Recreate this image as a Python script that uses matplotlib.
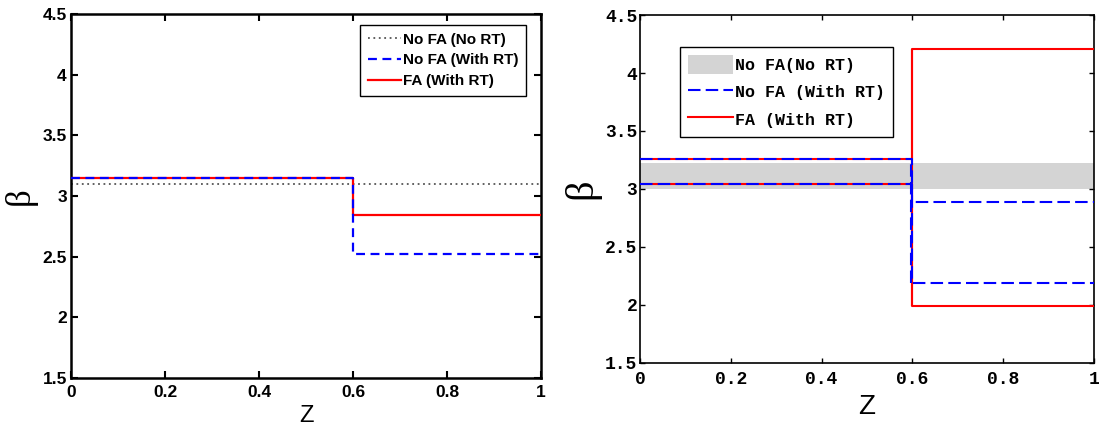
import numpy as np
import matplotlib
matplotlib.use("Agg")
import matplotlib.pyplot as plt
from matplotlib.patches import Patch
from matplotlib.lines import Line2D

# === 1. Data: beta per z segment (jump at z = 0.6) ===
z_edges = [0.0, 0.6, 1.0]

# left: point values
left_no_fa_no_rt = [3.10, 3.10]
left_no_fa_rt = [3.15, 2.52]
left_fa_rt = [3.15, 2.84]

# right: lower / upper bounds
right_no_rt_band = [3.00, 3.22]
right_no_fa_rt_lo = [3.04, 2.19]
right_no_fa_rt_hi = [3.26, 2.89]
right_fa_rt_lo = [3.04, 1.99]
right_fa_rt_hi = [3.26, 4.21]

labels_left = ["No FA (No RT)", "No FA (With RT)", "FA (With RT)"]
labels_right = ["No FA(No RT)", "No FA (With RT)", "FA (With RT)"]

xticks = [0, 0.2, 0.4, 0.6, 0.8, 1.0]
yticks = [1.5, 2, 2.5, 3, 3.5, 4, 4.5]


def steps(vals):
    return np.append(vals, vals[-1])


def tick_fmt(v):
    return f"{v:g}"


fig = plt.figure(figsize=(10.99, 4.25), dpi=100)

# === 2. Left panel ===
ax1 = fig.add_axes([0.0646, 0.1106, 0.4277, 0.8565])
sans = "Liberation Sans"

ax1.step(z_edges, steps(left_no_fa_no_rt), where="post", color="#555555",
         linestyle=(0, (1, 2)), linewidth=1.3, label=labels_left[0], zorder=2)
ax1.step(z_edges, steps(left_fa_rt), where="post", color="#ff0000",
         linewidth=1.6, label=labels_left[2], zorder=3)
ax1.step(z_edges, steps(left_no_fa_rt), where="post", color="#0000ff",
         linestyle=(0, (4, 2.5)), linewidth=1.6, label=labels_left[1], zorder=4)

ax1.set_xlim(0, 1)
ax1.set_ylim(1.5, 4.5)
ax1.set_xticks(xticks)
ax1.set_yticks(yticks)
ax1.set_xticklabels([tick_fmt(v) for v in xticks], fontfamily=sans, fontweight="bold", fontsize=12.5)
ax1.set_yticklabels([tick_fmt(v) for v in yticks], fontfamily=sans, fontweight="bold", fontsize=12.5)
ax1.tick_params(direction="in", length=5, width=1.5, top=True, right=True, pad=3)
ax1.tick_params(axis="x", pad=5)
for sp in ax1.spines.values():
    sp.set_linewidth(1.8)
ax1.set_xlabel("Z", fontfamily=sans, fontsize=17)
ax1.xaxis.set_label_coords(0.5, -0.073)
ax1.set_ylabel("β", fontfamily="Liberation Serif", fontsize=25, labelpad=4)

h1 = [ax1.lines[0], ax1.lines[2], ax1.lines[1]]
leg1 = ax1.legend(h1, labels_left, loc="upper right", bbox_to_anchor=(0.968, 0.970),
                  borderaxespad=0, fancybox=False, framealpha=1, edgecolor="black",
                  prop={"family": sans, "weight": "bold", "size": 11},
                  handlelength=2.2, handletextpad=0.1, labelspacing=0.45,
                  borderpad=0.5)
leg1.get_frame().set_linewidth(1.0)

# === 3. Right panel ===
ax2 = fig.add_axes([0.5823, 0.1459, 0.4131, 0.8188])
mono = "Liberation Mono"

ax2.axhspan(right_no_rt_band[0], right_no_rt_band[1], color="#d4d4d4", lw=0, zorder=1)

ax2.step(z_edges, steps(right_fa_rt_lo), where="post", color="#ff0000", linewidth=1.5, zorder=3)
ax2.step(z_edges, steps(right_fa_rt_hi), where="post", color="#ff0000", linewidth=1.5, zorder=3)
ax2.vlines(z_edges[1], min(right_fa_rt_lo + right_fa_rt_hi),
           max(right_fa_rt_lo + right_fa_rt_hi), color="#ff0000", linewidth=1.5, zorder=3)

blue_ls = (0, (6, 2.5))
ax2.step(z_edges, steps(right_no_fa_rt_lo), where="post", color="#0000ff",
         linestyle=blue_ls, linewidth=1.5, zorder=4)
ax2.step(z_edges, steps(right_no_fa_rt_hi), where="post", color="#0000ff",
         linestyle=blue_ls, linewidth=1.5, zorder=4)
ax2.vlines(z_edges[1] - 0.003, min(right_no_fa_rt_lo + right_no_fa_rt_hi),
           max(right_no_fa_rt_lo + right_no_fa_rt_hi), color="#0000ff",
           linestyle=blue_ls, linewidth=1.5, zorder=4)

ax2.set_xlim(0, 1)
ax2.set_ylim(1.5, 4.5)
ax2.set_xticks(xticks)
ax2.set_yticks(yticks)
ax2.set_xticklabels([tick_fmt(v) for v in xticks], fontfamily=mono, fontweight="bold", fontsize=13)
ax2.set_yticklabels([tick_fmt(v) for v in yticks], fontfamily=mono, fontweight="bold", fontsize=13)
ax2.tick_params(direction="in", length=3.5, width=1.0, top=True, right=True, pad=2)
ax2.tick_params(axis="x", pad=6)
for sp in ax2.spines.values():
    sp.set_linewidth(1.2)
ax2.set_xlabel("Z", fontfamily=sans, fontsize=20)
ax2.xaxis.set_label_coords(0.5, -0.088)
ax2.set_ylabel("β", fontfamily="Liberation Serif", fontsize=29, labelpad=3)

h2 = [Patch(facecolor="#d4d4d4", edgecolor="none"),
      Line2D([], [], color="#0000ff", linestyle=blue_ls, linewidth=1.5),
      Line2D([], [], color="#ff0000", linewidth=1.5)]
leg2 = ax2.legend(h2, labels_right, loc="upper left", bbox_to_anchor=(0.088, 0.908),
                  borderaxespad=0, fancybox=False, framealpha=1, edgecolor="black",
                  prop={"family": mono, "weight": "bold", "size": 12},
                  handlelength=2.7, handleheight=1.3, handletextpad=0.1,
                  labelspacing=0.55, borderpad=0.5)
leg2.get_frame().set_linewidth(1.0)

fig.savefig("out.png", dpi=100)
